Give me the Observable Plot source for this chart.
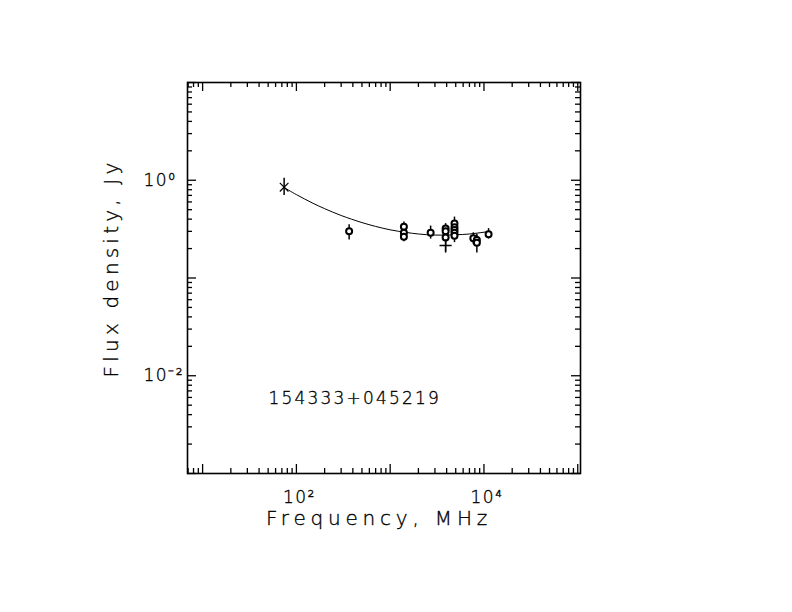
<!DOCTYPE html>
<html>
<head>
<meta charset="utf-8">
<script src="https://cdn.jsdelivr.net/npm/d3@7"></script>
<script src="https://cdn.jsdelivr.net/npm/@observablehq/plot@0.6"></script>
<style>
  html, body { margin: 0; padding: 0; background: #fff; }
</style>
</head>
<body>
<div id="chart"></div>
<script>
// ---- data ----
const sourceName = "154333+045219";
const xTitle = "Frequency, MHz";
const yTitle = "Flux density, Jy";

const freq   = [74,   365,  1400, 1400, 1400, 2700, 3900, 3900, 3900, 3900,  4850, 4850, 4850, 4850, 4850, 7700,  8400,  8400, 11200];
const flux   = [0.85, 0.30, 0.335,0.29, 0.265,0.29, 0.32, 0.30, 0.26, 0.215, 0.36, 0.33, 0.31, 0.29, 0.27, 0.255, 0.245, 0.23, 0.28];
const fluxLo = [0.70, 0.245,0.30, 0.26, 0.235,0.25, 0.28, 0.27, 0.23, 0.18,  0.31, 0.29, 0.27, 0.25, 0.23, 0.22,  0.215, 0.18, 0.25];
const fluxHi = [1.05, 0.35, 0.375,0.32, 0.295,0.34, 0.36, 0.33, 0.29, 0.24,  0.42, 0.37, 0.35, 0.33, 0.31, 0.29,  0.28,  0.27, 0.32];
const marker = ["times","circle","circle","circle","circle","circle","circle","circle","circle","plus",
                "circle","circle","circle","circle","circle","circle","circle","circle","circle"];

// fitted spectrum curve
const curveFreq = [74,    100,   150,   200,   300,   500,   700,   1000,  1500,  2000,  3000,  5000,  7000,  10000, 11200];
const curveFlux = [0.841, 0.713, 0.582, 0.512, 0.436, 0.369, 0.337, 0.311, 0.292, 0.282, 0.275, 0.277, 0.282, 0.294, 0.299];

// axes
const xDomain = [6.9, 107000];
const yDomain = [0.001, 10];
const xMajor = [10, 100, 1000, 10000, 100000];
const yMajor = [0.001, 0.01, 0.1, 1, 10];
const minorMult = [2, 3, 4, 5, 6, 7, 8, 9];
const xTickValues = [100, 10000];
const xTickLabels = ["10²", "10⁴"];
const yTickValues = [1, 0.01];
const yTickLabels = ["10⁰", "10⁻²"];

// ---- layout ----
const W = 792, H = 612;
const mL = 187, mR = 212, mT = 82, mB = 139;
const fW = W - mL - mR, fH = H - mT - mB;

const inDom = (v, d) => v >= d[0] && v <= d[1];
const xMinor = [1, 10, 100, 1000, 10000].flatMap(d => minorMult.map(m => d * m)).filter(v => inDom(v, xDomain));
const yMinor = [0.001, 0.01, 0.1, 1].flatMap(d => minorMult.map(m => d * m)).filter(v => inDom(v, yDomain));
const xMaj = xMajor.filter(v => inDom(v, xDomain));
const yMaj = yMajor.filter(v => inDom(v, yDomain));

const idx = d3.range(freq.length);
const idxOf = s => idx.filter(i => marker[i] === s);
const cidx = d3.range(curveFreq.length);

const minorLen = 5, majorLen = 9;
const font = "'DejaVu Sans', sans-serif";
const txt = {fill: "#000", stroke: "#000", strokeWidth: 0.35};

const chart = Plot.plot({
  width: W, height: H,
  marginLeft: mL, marginRight: mR, marginTop: mT, marginBottom: mB,
  x: {type: "log", domain: xDomain, axis: null},
  y: {type: "log", domain: yDomain, axis: null},
  style: {fontFamily: font, fontWeight: 200, background: "#fff", color: "#000", overflow: "visible"},
  marks: [
    // ticks (inside, all four sides)
    Plot.tickX(xMinor, {x: d => d, insetTop: fH - minorLen, stroke: "#000", strokeWidth: 1.3}),
    Plot.tickX(xMinor, {x: d => d, insetBottom: fH - minorLen, stroke: "#000", strokeWidth: 1.3}),
    Plot.tickX(xMaj, {x: d => d, insetTop: fH - majorLen, stroke: "#000", strokeWidth: 1.3}),
    Plot.tickX(xMaj, {x: d => d, insetBottom: fH - majorLen, stroke: "#000", strokeWidth: 1.3}),
    Plot.tickY(yMinor, {y: d => d, insetRight: fW - minorLen, stroke: "#000", strokeWidth: 1.3}),
    Plot.tickY(yMinor, {y: d => d, insetLeft: fW - minorLen, stroke: "#000", strokeWidth: 1.3}),
    Plot.tickY(yMaj, {y: d => d, insetRight: fW - majorLen, stroke: "#000", strokeWidth: 1.3}),
    Plot.tickY(yMaj, {y: d => d, insetLeft: fW - majorLen, stroke: "#000", strokeWidth: 1.3}),
    Plot.frame({stroke: "#000", strokeWidth: 1.6}),

    // tick labels
    Plot.text(xTickValues, {x: d => d, text: (d, i) => xTickLabels[i], frameAnchor: "bottom", dy: 29, dx: 3,
      fontSize: 17, ...txt}),
    Plot.text(yTickValues, {y: d => d, text: (d, i) => yTickLabels[i], frameAnchor: "left", dx: -44,
      textAnchor: "start", fontSize: 17, ...txt}),

    // titles
    Plot.text([xTitle], {text: d => d, frameAnchor: "bottom", textAnchor: "middle", dy: 51, dx: -5, fontSize: 20, ...txt}),
    Plot.text([yTitle], {text: d => d, frameAnchor: "left", textAnchor: "middle", dx: -76, dy: -10, rotate: -90, fontSize: 20, ...txt}),
    Plot.text([sourceName], {text: d => d, frameAnchor: "bottom-left", dx: 81, dy: -70, textAnchor: "start",
      fontSize: 17, ...txt}),

    // fitted curve
    Plot.line(cidx, {x: i => curveFreq[i], y: i => curveFlux[i], curve: "catmull-rom", stroke: "#000", strokeWidth: 1}),

    // error bars
    Plot.ruleX(idx, {x: i => freq[i], y1: i => fluxLo[i], y2: i => fluxHi[i], stroke: "#000", strokeWidth: 1.5}),

    // points
    Plot.dot(idxOf("circle"), {x: i => freq[i], y: i => flux[i], symbol: "circle", r: 3, fill: "#fff", stroke: "#000", strokeWidth: 2}),
    Plot.dot(idxOf("times"), {x: i => freq[i], y: i => flux[i], symbol: "times", r: 4, stroke: "#000", strokeWidth: 1.2}),
    Plot.dot(idxOf("plus"), {x: i => freq[i], y: i => flux[i], symbol: "plus", r: 4, stroke: "#000", strokeWidth: 1.4})
  ]
});

// letter spacing to mimic the wide stroke font of the reference
const spacingByText = new Map([
  ...xTickLabels.map(t => [t, "1.5px"]),
  ...yTickLabels.map(t => [t, "1.5px"]),
  [xTitle, "4.8px"], [yTitle, "4.2px"], [sourceName, "2.2px"]
]);
chart.querySelectorAll("text").forEach(t => {
  const s = spacingByText.get(t.textContent);
  if (s) t.setAttribute("letter-spacing", s);
});
document.getElementById("chart").appendChild(chart);
</script>
</body>
</html>
